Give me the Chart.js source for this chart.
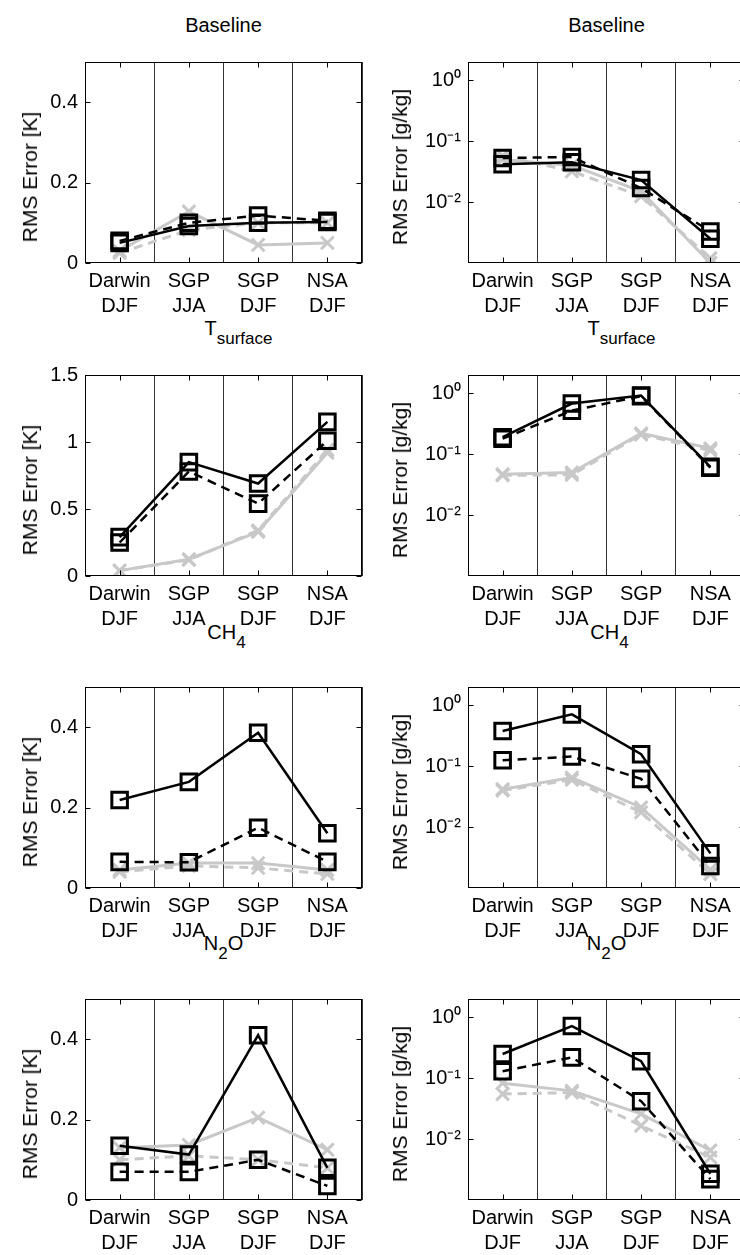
<!DOCTYPE html>
<html>
<head>
<meta charset="utf-8">
<script src="https://cdn.jsdelivr.net/npm/chart.js@4.4.0/dist/chart.umd.min.js"></script>
<style>
body { margin: 0; background: #fff; }
#wrap { position: relative; width: 740px; height: 1255px; overflow: hidden; font-family: 'Liberation Sans', Arial, sans-serif; }
#wrap canvas { position: absolute; }
.ttl { position: absolute; font-size: 20px; line-height: 24px; white-space: nowrap; transform: translateX(-50%); color: #000; }
.ttl sub { font-size: 17px; vertical-align: baseline; position: relative; top: 9px; }
.ylab { position: absolute; font-size: 21px; line-height: 24px; white-space: nowrap; transform: translate(-50%, -50%) rotate(-90deg); color: #000; }
</style>
</head>
<body>
<div id="wrap"></div>
<script>
//categories on the x axis (two line labels)
var categories = [['Darwin', 'DJF'], ['SGP', 'JJA'], ['SGP', 'DJF'], ['NSA', 'DJF']];

//tick values
var linTicksLow = [0, 0.2, 0.4];
var linTicksHigh = [0, 0.5, 1, 1.5];
var logTicks = [0.01, 0.1, 1];
var logTickLabels = ['10\u207B\u00B2', '10\u207B\u00B9', '10\u2070'];

//titles
var rowTitles = ['Baseline', 'T<sub>surface</sub>', 'CH<sub>4</sub>', 'N<sub>2</sub>O'];
var yLabels = ['RMS Error [K]', 'RMS Error [g/kg]'];

//row 1 - left (K)
var r1kSolid = [0.05, 0.092, 0.1, 0.102];
var r1kDash = [0.055, 0.1, 0.118, 0.105];
var r1kGraySolid = [0.03, 0.128, 0.045, 0.05];
var r1kGrayDash = [0.025, 0.082, 0.1, 0.1];
//row 1 - right (g/kg)
var r1gSolid = [0.042, 0.045, 0.023, 0.0025];
var r1gDash = [0.053, 0.055, 0.017, 0.0033];
var r1gGraySolid = [0.05, 0.04, 0.015, 0.001];
var r1gGrayDash = [0.058, 0.032, 0.0125, 0.0012];

//row 2 - left
var r2kSolid = [0.29, 0.85, 0.69, 1.15];
var r2kDash = [0.25, 0.78, 0.54, 1.01];
var r2kGraySolid = [0.04, 0.125, 0.33, 0.92];
var r2kGrayDash = [0.04, 0.12, 0.34, 0.94];
//row 2 - right
var r2gSolid = [0.19, 0.68, 0.92, 0.062];
var r2gDash = [0.18, 0.52, 0.9, 0.06];
var r2gGraySolid = [0.047, 0.05, 0.22, 0.125];
var r2gGrayDash = [0.045, 0.046, 0.21, 0.115];

//row 3 - left
var r3kSolid = [0.219, 0.264, 0.386, 0.136];
var r3kDash = [0.065, 0.064, 0.15, 0.065];
var r3kGraySolid = [0.045, 0.062, 0.062, 0.045];
var r3kGrayDash = [0.04, 0.055, 0.05, 0.035];
//row 3 - right
var r3gSolid = [0.38, 0.71, 0.157, 0.0037];
var r3gDash = [0.125, 0.144, 0.062, 0.0023];
var r3gGraySolid = [0.042, 0.065, 0.021, 0.002];
var r3gGrayDash = [0.04, 0.06, 0.0175, 0.0017];

//row 4 - left
var r4kSolid = [0.135, 0.113, 0.41, 0.08];
var r4kDash = [0.07, 0.07, 0.1, 0.035];
var r4kGraySolid = [0.13, 0.137, 0.205, 0.125];
var r4kGrayDash = [0.1, 0.11, 0.1, 0.08];
//row 4 - right
var r4gSolid = [0.25, 0.72, 0.19, 0.0027];
var r4gDash = [0.13, 0.22, 0.042, 0.0022];
var r4gGraySolid = [0.083, 0.062, 0.026, 0.0065];
var r4gGrayDash = [0.055, 0.058, 0.0166, 0.005];

//layout
var plotTops = [62, 375, 687, 999];
var titleCenters = [25, 328, 632, 943];
var titleShift = [0, 15, 3, 0];
var plotLefts = [85, 468];
var yLabelX = [30, 400];
var yLabelShift = [14, 4];
var plotW = 277;
var plotH = 201;
var yAxisW = 85;
var padTop = 20;
var xAxisH = 62;
var fontFam = "'Liberation Sans', Arial, Helvetica, sans-serif";
var gray = 'rgb(200,200,200)';

var wrap = document.getElementById('wrap');

//box + inward ticks like matlab axes
var boxPlugin = {
	id: 'box',
	afterDatasetsDraw: function(chart) {
		var a = chart.chartArea;
		var ctx = chart.ctx;
		var l = Math.round(a.left) + 0.5, r = Math.round(a.right) - 0.5;
		var t = Math.round(a.top) + 0.5, b = Math.round(a.bottom) - 0.5;
		ctx.save();
		ctx.strokeStyle = '#000';
		ctx.lineWidth = 1;
		ctx.strokeRect(l, t, r - l, b - t);
		ctx.beginPath();
		var xs = chart.scales.x;
		for (var i = 0; i < xs.ticks.length; i++) {
			var px = Math.round(xs.getPixelForTick(i)) + 0.5;
			ctx.moveTo(px, b); ctx.lineTo(px, b - 5);
			ctx.moveTo(px, t); ctx.lineTo(px, t + 5);
		}
		var ys = chart.scales.y;
		for (var j = 0; j < ys.ticks.length; j++) {
			var py = Math.round(ys.getPixelForValue(ys.ticks[j].value)) + 0.5;
			ctx.moveTo(l, py); ctx.lineTo(l + 5, py);
			ctx.moveTo(r, py); ctx.lineTo(r - 5, py);
		}
		ctx.stroke();
		ctx.restore();
	}
};

function makeSet(values, color, dash, style, radius, width) {
	return {
		data: values,
		borderColor: color,
		borderWidth: width,
		borderDash: dash,
		pointStyle: style,
		pointRadius: radius,
		pointBorderColor: color,
		pointBorderWidth: 3,
		pointBackgroundColor: 'rgba(0,0,0,0)',
		fill: false,
		tension: 0
	};
}

function makePanel(row, col, solid, dash, graySolid, grayDash) {
	var isLog = col == 1;
	var cv = document.createElement('canvas');
	cv.width = yAxisW + plotW + 2;
	cv.height = padTop + plotH + xAxisH;
	cv.style.left = (plotLefts[col] - yAxisW) + 'px';
	cv.style.top = (plotTops[row] - padTop) + 'px';
	wrap.appendChild(cv);

	//y axis label
	var lab = document.createElement('div');
	lab.className = 'ylab';
	lab.textContent = yLabels[col];
	lab.style.left = yLabelX[col] + 'px';
	lab.style.top = (plotTops[row] + plotH / 2 + yLabelShift[col]) + 'px';
	wrap.appendChild(lab);

	var ticks = isLog ? logTicks : (row == 1 ? linTicksHigh : linTicksLow);
	var yScale = {
		type: isLog ? 'logarithmic' : 'linear',
		min: isLog ? 0.001 : 0,
		max: isLog ? 2 : (row == 1 ? 1.5 : 0.5),
		afterBuildTicks: function(s) {
			s.ticks = ticks.map(function(v) { return {value: v}; });
		},
		afterFit: function(s) {
			s.width = yAxisW;
			s.paddingTop = 0;
			s.paddingBottom = 0;
		},
		ticks: {
			font: {family: fontFam, size: 20},
			color: '#000',
			padding: 7,
			callback: function(v, i) {
				return isLog ? logTickLabels[i] : String(v);
			}
		},
		grid: {display: false, drawTicks: false},
		border: {display: false}
	};

	new Chart(cv, {
		type: 'line',
		data: {
			labels: categories,
			datasets: [
				makeSet(solid, '#000', [], 'rect', 11, 2.5),
				makeSet(dash, '#000', [9, 6], 'rect', 11, 2.5),
				makeSet(graySolid, gray, [], 'crossRot', 9, 3),
				makeSet(grayDash, gray, [9, 6], 'crossRot', 9, 3)
			]
		},
		options: {
			responsive: false,
			animation: false,
			devicePixelRatio: 1,
			layout: {autoPadding: false, padding: {top: padTop, left: 0, right: 2, bottom: 0}},
			plugins: {legend: {display: false}, tooltip: {enabled: false}},
			scales: {
				x: {
					type: 'category',
					offset: true,
					grid: {display: true, offset: true, color: '#333', lineWidth: 1, drawTicks: false},
					border: {display: false},
					ticks: {
						font: {family: fontFam, size: 20, lineHeight: 1.25},
						color: '#000',
						padding: 6,
						maxRotation: 0,
						autoSkip: false
					},
					afterFit: function(s) {
						s.height = xAxisH;
						s.paddingLeft = 0;
						s.paddingRight = 0;
					}
				},
				y: yScale
			}
		},
		plugins: [boxPlugin]
	});
}

//titles above each row
function addTitles(){
	for (var r = 0; r < rowTitles.length; r++) {
		for (var c = 0; c < 2; c++) {
			var d = document.createElement('div');
			d.className = 'ttl';
			d.innerHTML = rowTitles[r];
			d.style.left = (plotLefts[c] + plotW / 2 + titleShift[r]) + 'px';
			d.style.top = (titleCenters[r] - 12) + 'px';
			wrap.appendChild(d);
		}
	}
}

addTitles();
makePanel(0, 0, r1kSolid, r1kDash, r1kGraySolid, r1kGrayDash);
makePanel(0, 1, r1gSolid, r1gDash, r1gGraySolid, r1gGrayDash);
makePanel(1, 0, r2kSolid, r2kDash, r2kGraySolid, r2kGrayDash);
makePanel(1, 1, r2gSolid, r2gDash, r2gGraySolid, r2gGrayDash);
makePanel(2, 0, r3kSolid, r3kDash, r3kGraySolid, r3kGrayDash);
makePanel(2, 1, r3gSolid, r3gDash, r3gGraySolid, r3gGrayDash);
makePanel(3, 0, r4kSolid, r4kDash, r4kGraySolid, r4kGrayDash);
makePanel(3, 1, r4gSolid, r4gDash, r4gGraySolid, r4gGrayDash);
</script>
</body>
</html>
